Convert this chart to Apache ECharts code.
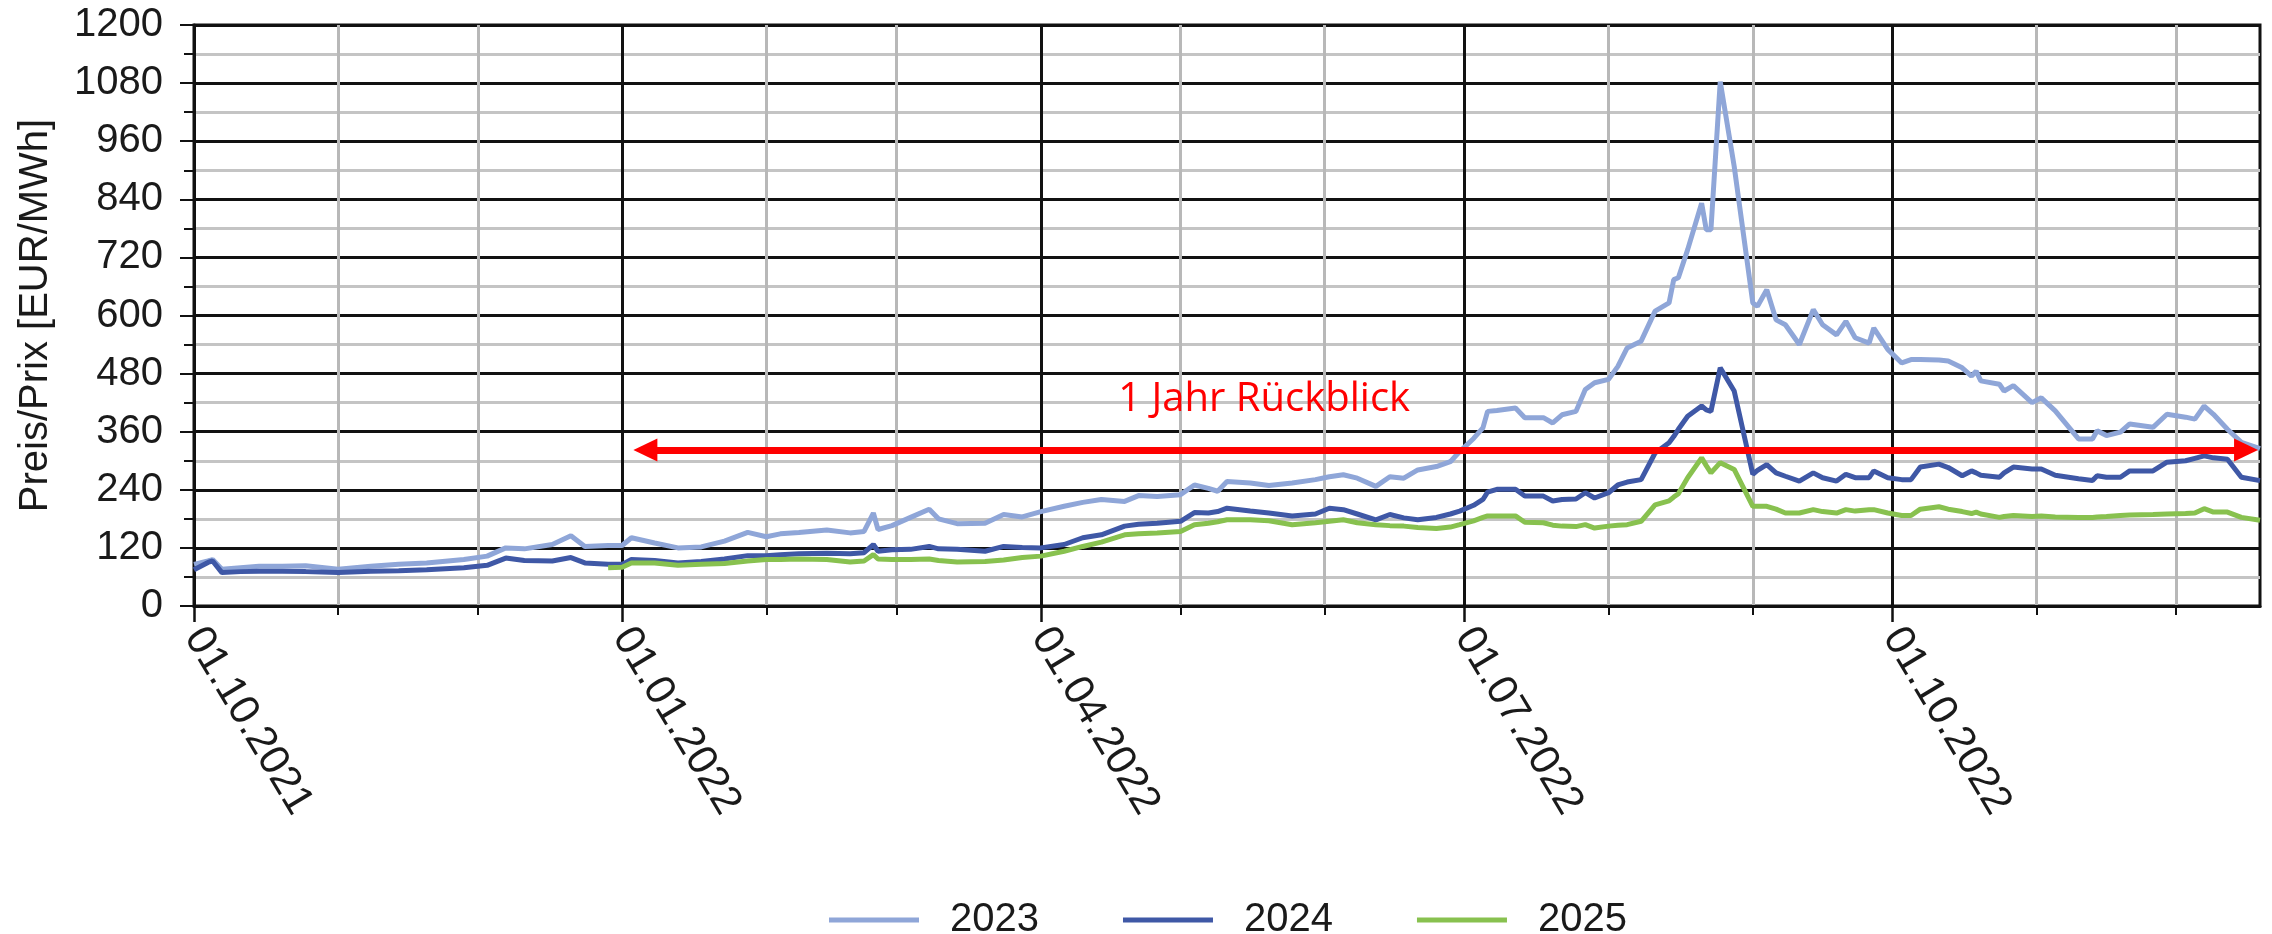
<!DOCTYPE html>
<html>
<head>
<meta charset="utf-8">
<script src="https://cdn.jsdelivr.net/npm/echarts@6.0.0/dist/echarts.min.js"></script>
<style>
  html, body { margin: 0; padding: 0; background: #fff; }
  #main { width: 2272px; height: 934px; }
</style>
</head>
<body>
<div id="main"></div>
<script>
// sampled readings, EUR/MWh
const sampleDates = [
  '2021-10-01', '2021-10-04', '2021-10-05', '2021-10-07', '2021-10-11', '2021-10-15', '2021-10-20', '2021-10-25',
  '2021-11-01', '2021-11-08', '2021-11-14', '2021-11-20', '2021-11-28',
  '2021-12-03', '2021-12-07', '2021-12-11', '2021-12-17', '2021-12-21', '2021-12-24', '2021-12-29',
  '2022-01-01', '2022-01-03', '2022-01-08', '2022-01-13', '2022-01-18', '2022-01-23', '2022-01-28',
  '2022-02-01', '2022-02-04', '2022-02-08', '2022-02-14', '2022-02-19', '2022-02-22', '2022-02-24', '2022-02-25', '2022-02-28',
  '2022-03-04', '2022-03-08', '2022-03-10', '2022-03-14', '2022-03-20', '2022-03-24', '2022-03-28',
  '2022-04-01', '2022-04-06', '2022-04-10', '2022-04-14', '2022-04-19', '2022-04-22', '2022-04-26',
  '2022-05-01', '2022-05-04', '2022-05-07', '2022-05-09', '2022-05-11', '2022-05-16', '2022-05-20', '2022-05-25', '2022-05-30',
  '2022-06-02', '2022-06-05', '2022-06-08', '2022-06-12', '2022-06-15', '2022-06-18', '2022-06-21', '2022-06-25', '2022-06-28', '2022-06-30',
  '2022-07-03', '2022-07-05', '2022-07-06', '2022-07-08', '2022-07-12', '2022-07-14', '2022-07-18', '2022-07-20', '2022-07-22', '2022-07-25', '2022-07-27', '2022-07-29',
  '2022-08-01', '2022-08-03', '2022-08-05', '2022-08-08', '2022-08-11', '2022-08-14', '2022-08-15', '2022-08-16', '2022-08-18', '2022-08-21', '2022-08-22', '2022-08-23', '2022-08-25', '2022-08-28',
  '2022-09-01', '2022-09-02', '2022-09-04', '2022-09-06', '2022-09-08', '2022-09-11', '2022-09-14', '2022-09-16', '2022-09-19', '2022-09-21', '2022-09-23', '2022-09-26', '2022-09-27', '2022-09-30',
  '2022-10-03', '2022-10-05', '2022-10-07', '2022-10-11', '2022-10-13', '2022-10-16', '2022-10-18', '2022-10-19', '2022-10-20', '2022-10-24', '2022-10-25', '2022-10-27', '2022-10-31',
  '2022-11-02', '2022-11-05', '2022-11-10', '2022-11-13', '2022-11-14', '2022-11-16', '2022-11-19', '2022-11-21', '2022-11-26', '2022-11-29',
  '2022-12-03', '2022-12-05', '2022-12-07', '2022-12-09', '2022-12-12', '2022-12-15', '2022-12-19'
]

const p2023 = [
  86, 93, 96, 76, 79, 82, 82, 83,
  76, 82, 86, 89, 96,
  103, 120, 118, 127, 145, 123, 125,
  125, 141, 130, 120, 122, 134, 152,
  143, 149, 152, 157, 151, 154, 192, 158, 166,
  183, 200, 180, 170, 171, 189, 184,
  195, 206, 214, 220, 216, 228, 226,
  230, 250, 243, 237, 257, 254, 249, 254, 261,
  267, 271, 264, 247, 267, 264, 281, 288, 298, 319,
  346, 368, 402, 404, 409, 389, 389, 378, 395, 402, 447, 461,
  468, 495, 533, 547, 609, 626, 674, 678, 736, 832, 777, 777, 1083, 908,
  626, 619, 653, 591, 581, 540, 612, 581, 560, 588, 554, 543, 574, 530,
  502, 509, 509, 508, 506, 492, 475, 485, 465, 458, 444, 455, 420,
  430, 403, 345, 345, 362, 352, 359, 376, 369, 396,
  390, 386, 413, 396, 365, 338, 325
]

const p2024 = [
  75, 90, 93, 69, 71, 72, 72, 71,
  69, 72, 73, 75, 79,
  84, 99, 94, 93, 100, 89, 86,
  86, 96, 94, 89, 92, 97, 104,
  104, 106, 108, 109, 108, 110, 127, 113, 116,
  117, 123, 118, 117, 113, 123, 121,
  120, 127, 141, 147, 165, 169, 171,
  175, 193, 192, 195, 202, 196, 192, 186, 190,
  202, 199, 190, 178, 189, 182, 178, 183, 190, 196,
  208, 220, 235, 241, 241, 227, 227, 217, 220, 221, 234, 223,
  234, 250, 256, 261, 316, 337, 350, 365, 392, 413, 405, 402, 492, 444,
  272, 280, 292, 275, 268, 258, 275, 265, 258, 272, 265, 265, 279, 265,
  261, 261, 287, 293, 286, 269, 279, 275, 270, 266, 275, 287, 283,
  283, 270, 263, 259, 269, 266, 266, 279, 279, 297,
  300, 305, 310, 306, 303, 266, 259
]

const p2025 = [
  null, null, null, null, null, null, null, null,
  null, null, null, null, null,
  null, null, null, null, null, null, 79,
  80, 89, 89, 84, 86, 88, 93,
  96, 96, 97, 96, 91, 93, 106, 97, 96,
  96, 97, 94, 91, 92, 95, 100,
  103, 113, 123, 132, 147, 149, 151,
  154, 168, 171, 174, 178, 178, 176, 168, 172,
  175, 178, 172, 168, 166, 165, 162, 160, 163, 168,
  176, 183, 186, 186, 186, 173, 172, 167, 165, 164, 168, 161,
  165, 167, 168, 175, 209, 217, 225, 232, 265, 306, 290, 275, 296, 282,
  206, 206, 206, 200, 192, 192, 199, 195, 192, 199, 196, 199, 199, 192,
  187, 187, 200, 205, 200, 195, 191, 194, 190, 183, 185, 187, 185,
  186, 184, 183, 183, 184, 185, 187, 188, 189, 190,
  191, 192, 201, 194, 194, 183, 177
]

const seriesNames = ['2023', '2024', '2025']
const seriesColors = ['#8fa6d8', '#3f58a6', '#88c14f']

// annotation: "1 Jahr Rückblick" arrow
const arrowLevel = 322
const arrowFrom = '2022-01-06'
const arrowTo = '2022-12-16'
const noteText = '1 Jahr Rückblick'
const noteDate = '2022-05-19'
const noteLevel = 426

// daily category axis 01.10.2021 .. 19.12.2022
const categories = []
for (let t = Date.UTC(2021, 9, 1); t <= Date.UTC(2022, 11, 19); t += 86400000) {
  categories.push(new Date(t).toISOString().slice(0, 10))
}

const isQuarterStart = (i, v) => v.slice(8) === '01' && ['01', '04', '07', '10'].includes(v.slice(5, 7))
const isMonthStart = (i, v) => v.slice(8) === '01' && !isQuarterStart(i, v)
const toLabel = (v) => v.slice(8) + '.' + v.slice(5, 7) + '.' + v.slice(0, 4)

const toPoints = (values) =>
  sampleDates
    .map((d, i) => (values[i] == null ? null : [categories.indexOf(d), values[i]]))
    .filter(Boolean)

const textFont = 'Liberation Sans'
const dark = '#1a1a1a'

const chart = echarts.init(document.getElementById('main'))

const series = [p2023, p2024, p2025].map((values, k) => ({
  name: seriesNames[k],
  type: 'line',
  showSymbol: false,
  xAxisIndex: 0,
  lineStyle: { color: seriesColors[k], width: 5 },
  itemStyle: { color: seriesColors[k] },
  data: toPoints(values)
}))

series[2].markLine = {
  silent: true,
  symbol: ['triangle', 'triangle'],
  symbolSize: [23, 24],
  lineStyle: { color: '#ff0000', width: 7, type: 'solid' },
  itemStyle: { color: '#ff0000' },
  label: { show: false },
  data: [[
    { coord: [categories.indexOf(arrowFrom), arrowLevel] },
    { coord: [categories.indexOf(arrowTo), arrowLevel] }
  ]]
}
series[2].markPoint = {
  silent: true,
  symbol: 'rect',
  symbolSize: 1,
  itemStyle: { color: 'rgba(0,0,0,0)' },
  label: {
    show: true,
    position: 'inside',
    formatter: noteText,
    color: '#ff0000',
    fontSize: 40,
    fontFamily: 'Open Sans'
  },
  data: [{ coord: [categories.indexOf(noteDate), noteLevel] }]
}

const option = {
  animation: false,
  backgroundColor: '#ffffff',
  grid: {
    left: 194,
    right: 12,
    top: 25,
    bottom: 328,
    show: true,
    borderColor: '#111',
    borderWidth: 3,
    outerBoundsMode: 'none'
  },
  legend: {
    data: seriesNames,
    left: 824,
    top: 895,
    icon: 'rect',
    itemWidth: 90,
    itemHeight: 5,
    itemGap: 84,
    textStyle: { fontSize: 40, fontFamily: textFont, color: dark, padding: [0, 0, 0, 26] }
  },
  xAxis: [
    {
      type: 'category',
      data: categories,
      boundaryGap: false,
      position: 'bottom',
      axisLine: { show: true, lineStyle: { color: '#111', width: 3 } },
      axisTick: { show: true, interval: isQuarterStart, length: 16, lineStyle: { color: '#111', width: 2.5 } },
      axisLabel: {
        interval: isQuarterStart,
        rotate: -59,
        margin: 25,
        formatter: toLabel,
        fontSize: 42,
        fontFamily: textFont,
        color: dark
      },
      splitLine: { show: true, interval: isQuarterStart, lineStyle: { color: '#111', width: 3 } }
    },
    {
      // monthly gray lines
      type: 'category',
      data: categories,
      boundaryGap: false,
      position: 'bottom',
      axisLine: { show: false },
      axisLabel: { show: false },
      axisTick: { show: true, interval: isMonthStart, length: 9, lineStyle: { color: '#111', width: 2 } },
      splitLine: { show: true, interval: isMonthStart, lineStyle: { color: '#b8b8b8', width: 3 } }
    }
  ],
  yAxis: {
    type: 'value',
    min: 0,
    max: 1200,
    interval: 120,
    name: 'Preis/Prix [EUR/MWh]',
    nameLocation: 'middle',
    nameGap: 138,
    nameTextStyle: { fontSize: 40, fontFamily: textFont, color: dark },
    axisLine: { show: true, lineStyle: { color: '#111', width: 3 } },
    axisTick: { show: true, length: 14, lineStyle: { color: '#111', width: 2 } },
    minorTick: { show: true, splitNumber: 2, length: 10, lineStyle: { color: '#111', width: 2 } },
    axisLabel: { fontSize: 40, margin: 31, fontFamily: textFont, color: dark, formatter: (v) => String(v) },
    splitLine: { show: true, lineStyle: { color: '#111', width: 3 } },
    minorSplitLine: { show: true, lineStyle: { color: '#c4c4c4', width: 3 } }
  },
  series: series
}

chart.setOption(option)
</script>
</body>
</html>
